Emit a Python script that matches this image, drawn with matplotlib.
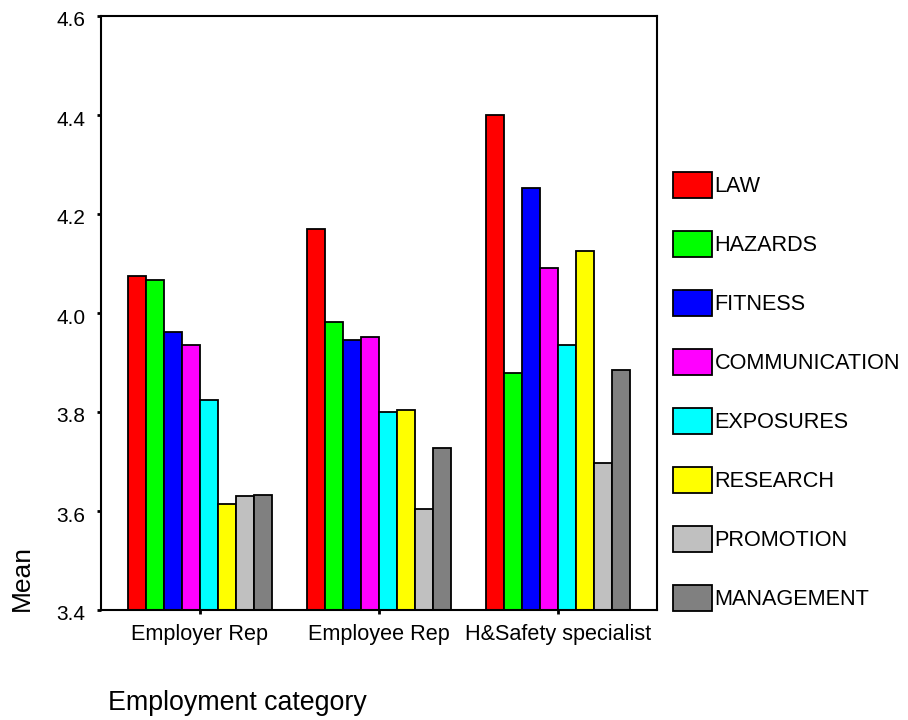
import numpy as np
import matplotlib
matplotlib.use("Agg")
import matplotlib.pyplot as plt
from matplotlib.transforms import ScaledTranslation

plt.rcParams['font.family'] = ['Liberation Sans', 'DejaVu Sans']

# data
groups = ["Employer Rep", "Employee Rep", "H&Safety specialist"]
topics = ["LAW", "HAZARDS", "FITNESS", "COMMUNICATION",
          "EXPOSURES", "RESEARCH", "PROMOTION", "MANAGEMENT"]
law           = [4.074, 4.169, 4.400]
hazards       = [4.066, 3.982, 3.879]
fitness       = [3.962, 3.946, 4.253]
communication = [3.935, 3.952, 4.090]
exposures     = [3.824, 3.800, 3.935]
research      = [3.614, 3.804, 4.126]
promotion     = [3.630, 3.605, 3.696]
management    = [3.633, 3.728, 3.885]
yticks = [3.4, 3.6, 3.8, 4.0, 4.2, 4.4, 4.6]

series = [law, hazards, fitness, communication,
          exposures, research, promotion, management]
colors = ["#ff0000", "#00ff00", "#0000ff", "#ff00ff",
          "#00ffff", "#ffff00", "#c0c0c0", "#808080"]

fig = plt.figure(figsize=(9.08, 7.2), dpi=100)
ax = fig.add_axes([101/908, 1 - 610/720, 556/908, 594/720])

x = np.arange(len(groups))
w = 0.1005
handles = []
for i, (vals, col) in enumerate(zip(series, colors)):
    base = 3.4
    b = ax.bar(x + (i - 3.5) * w, np.array(vals) - base, width=w, bottom=base,
               color=col, edgecolor="black", linewidth=1.3, label=topics[i])
    handles.append(b)

ax.set_xlim(-0.553, 2.553)
ax.set_ylim(3.4, 4.6)
ax.set_yticks(yticks)
ax.set_yticklabels([f"{t:.1f}" for t in yticks])
ax.set_xticks(x)
ax.set_xticklabels(groups)
ax.tick_params(direction="out", length=3, width=2, pad=8)
ax.tick_params(axis="y", labelsize=15)
ax.tick_params(axis="x", labelsize=15.6, pad=7)
# y labels sit a touch below their ticks in the original
shift = ScaledTranslation(0, -3/100, fig.dpi_scale_trans)
for lab in ax.get_yticklabels():
    lab.set_transform(lab.get_transform() + shift)
for s in ax.spines.values():
    s.set_linewidth(1.5)

ax.set_ylabel("Mean", fontsize=19, rotation=90, rotation_mode="default",
              ha="center", va="bottom")
ax.yaxis.set_label_coords(-0.142, -0.001)
ax.set_xlabel("Employment category", fontsize=19.3, ha="left", va="center")
ax.xaxis.set_label_coords(0.012, -0.157)

fig.legend(handles=handles, labels=topics, loc="upper left",
           bbox_to_anchor=(673/908, 1 - 172/720), frameon=False,
           fontsize=15.6, handlelength=1.82, handleheight=1.5,
           handletextpad=0.1, labelspacing=1.5, borderpad=0, borderaxespad=0)

fig.savefig("out.png", dpi=100)
